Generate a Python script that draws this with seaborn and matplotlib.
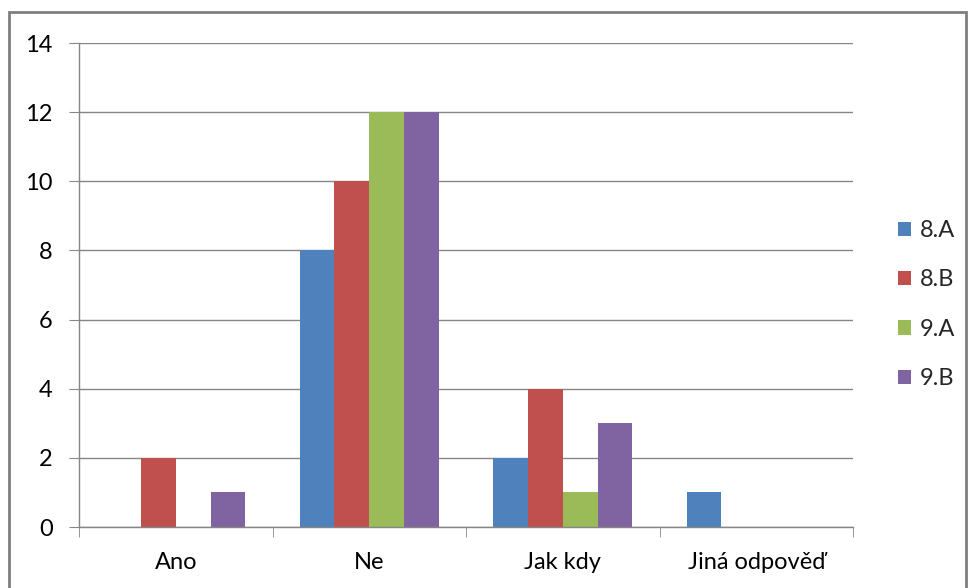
import pandas as pd
import seaborn as sns
import matplotlib.pyplot as plt
from matplotlib.patches import Rectangle

categories = ["Ano", "Ne", "Jak kdy", "Jiná odpověď"]
classes = ["8.A", "8.B", "9.A", "9.B"]
values_8a = [0, 8, 2, 1]
values_8b = [2, 10, 4, 0]
values_9a = [0, 12, 1, 0]
values_9b = [1, 12, 3, 0]
colors = ["#4F81BD", "#C0504D", "#9BBB59", "#8064A2"]

rows = []
for cls, vals in zip(classes, [values_8a, values_8b, values_9a, values_9b]):
    for cat, v in zip(categories, vals):
        rows.append({"odpoved": cat, "trida": cls, "pocet": v})
df = pd.DataFrame(rows)

sns.set_style("white")
plt.rcParams["font.family"] = ["Lato", "DejaVu Sans"]

fig = plt.figure(figsize=(9.7, 5.88), dpi=100)
ax = fig.add_axes([79 / 970, 61 / 588, 774 / 970, 484 / 588])
sns.barplot(data=df, x="odpoved", y="pocet", hue="trida", order=categories,
            hue_order=classes, palette=colors, width=0.72, saturation=1,
            linewidth=0, errorbar=None, ax=ax, legend=True)

ax.set_ylim(0, 14)
ax.set_xlim(-0.5, 3.5)
ax.set_yticks(range(0, 15, 2))
ax.yaxis.grid(True, color="#868686", linewidth=1)
ax.set_axisbelow(True)
ax.set_xlabel("")
ax.set_ylabel("")
for s in ["top", "right"]:
    ax.spines[s].set_visible(False)
for s in ["left", "bottom"]:
    ax.spines[s].set_color("#868686")
    ax.spines[s].set_linewidth(1)
ax.tick_params(axis="y", length=7, color="#868686", labelsize=17, pad=12,
               left=True, labelcolor="#000000")
ax.tick_params(axis="x", which="major", length=0, labelsize=17, pad=18,
               labelcolor="#000000")
ax.set_xticks([-0.5, 0.5, 1.5, 2.5, 3.5], minor=True)
ax.tick_params(axis="x", which="minor", length=7, color="#868686", bottom=True)

handles, labels = ax.get_legend_handles_labels()
ax.get_legend().remove()
fig.legend(handles, labels, loc="center left", bbox_to_anchor=(0.904, 0.482),
           frameon=False, fontsize=17, handlelength=0.55, handleheight=0.55,
           handletextpad=0.35, labelspacing=1.2)

fig.patches.append(Rectangle((9 / 970, -0.1), 957 / 970, 1.1 - 12 / 588,
                             transform=fig.transFigure, fill=False,
                             edgecolor="#7f7f7f", linewidth=2))

plt.savefig("out.png")
